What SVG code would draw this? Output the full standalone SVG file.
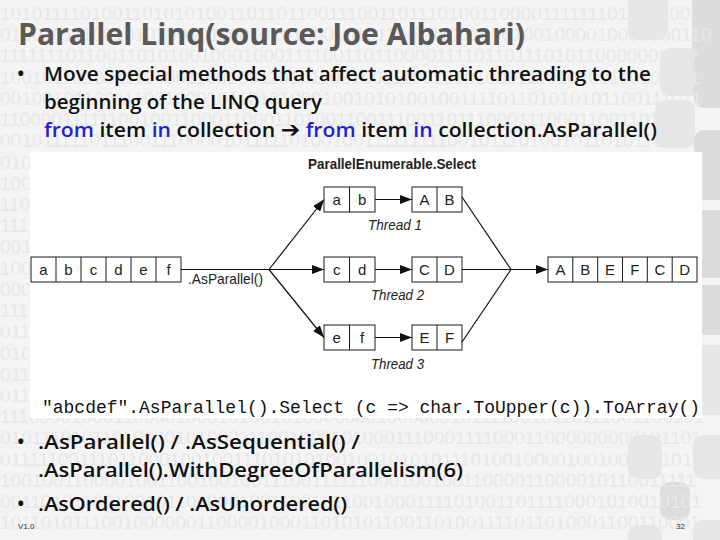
<svg xmlns="http://www.w3.org/2000/svg" width="720" height="540" viewBox="0 0 720 540">
<style>
.bgd{font-family:"Liberation Sans",sans-serif;font-size:19px;fill:#e8e8e8}
.deco{fill:#dcdcdc}
.deco2{fill:#e6e6e6}
.title{font-family:"Open Sans","Liberation Sans",sans-serif;font-weight:700;font-size:31px;fill:#595959}
.body{font-family:"Open Sans","Liberation Sans",sans-serif;font-weight:600;font-size:20px;fill:#111}
.blue{fill:#2323c8}
.cell{fill:#fff;stroke:#1a1a1a;stroke-width:1}
.div{stroke:#1a1a1a;stroke-width:1}
.ct{font-family:"Liberation Sans",sans-serif;font-size:15px;fill:#222;text-anchor:middle}
.thr{font-family:"Liberation Sans",sans-serif;font-style:italic;font-size:15px;fill:#222}
.lbl{font-family:"Liberation Sans",sans-serif;font-size:15px;fill:#222}
.conn{stroke:#111;stroke-width:1.2;fill:none}
.code{font-family:"Liberation Mono",monospace;font-size:18px;fill:#111}
.small{font-family:"Liberation Sans",sans-serif;font-size:8px;fill:#333}
</style>
<defs>
<marker id="ah" markerUnits="userSpaceOnUse" markerWidth="13" markerHeight="9" refX="12" refY="4.5" orient="auto">
<path d="M0,0 L12,4.5 L0,9 z" fill="#111"/>
</marker>
</defs>
<rect x="0" y="0" width="720" height="540" fill="#f4f4f4"/>
<g id="decoration">
<rect class="deco2" x="628" y="-12" width="40" height="52" rx="10"/>
<rect class="deco" x="692" y="-12" width="40" height="68" rx="10"/>
<rect class="deco2" x="660" y="48" width="40" height="48" rx="10"/>
<rect class="deco" x="694" y="52" width="40" height="56" rx="10"/>
<rect class="deco2" x="655" y="100" width="40" height="48" rx="10"/>
<rect class="deco" x="694" y="130" width="40" height="70" rx="10"/>
<rect class="deco" x="694" y="210" width="40" height="68" rx="10"/>
<rect class="deco" x="694" y="285" width="40" height="50" rx="10"/>
<rect class="deco2" x="694" y="345" width="40" height="70" rx="10"/>
<rect class="deco2" x="628" y="435" width="34" height="44" rx="10"/>
<rect class="deco2" x="693" y="435" width="40" height="44" rx="10"/>
<rect class="deco" x="660" y="482" width="30" height="38" rx="10"/>
<rect class="deco2" x="628" y="525" width="34" height="30" rx="10"/>
<rect class="deco2" x="693" y="520" width="40" height="30" rx="10"/>
</g>
<g id="background-digits" class="bgd">
<text x="0" y="20">10101111010011010101001101101100111001101110100110000111111101100100</text>
<text x="0" y="41">01001011100101010010110010101000101011001010010001001000010000000110</text>
<text x="0" y="62">11111110110011010100100010001111001101100001111011011101011000000101</text>
<text x="0" y="84">10010110100111000011001001101011001001110010101000111010100110100111</text>
<text x="0" y="105">00100101100111001000101101010001001010100100111101101010101100111011</text>
<text x="0" y="126">11000011111100100110001100011010011001110011011100011100011001101100</text>
<text x="0" y="147">00101111101110011100001011111010010011111111100101110100101101011001</text>
<text x="0" y="169">010</text>
<text x="0" y="190">100</text>
<text x="0" y="211">110</text>
<text x="0" y="232">111</text>
<text x="0" y="253">001</text>
<text x="0" y="275">100</text>
<text x="0" y="296">000</text>
<text x="0" y="317">111</text>
<text x="0" y="338">011</text>
<text x="0" y="360">010</text>
<text x="0" y="381">011</text>
<text x="0" y="402">011</text>
<text x="0" y="423">11100001000110000100010100101000000010000001011110010110111001100101</text>
<text x="0" y="444">01011101011010100101000111001000101000111000111100011000000000101101</text>
<text x="0" y="466">01111100111011000100100111010101001001010101110100100001001000101011</text>
<text x="0" y="487">10010011000010011001001001110011111100010010011000011000010110011111</text>
<text x="0" y="508">00110101100100101101000100110010110010001111010011011110001010010101</text>
<text x="0" y="529">10110101110010000001100001000110101011001101001111011010001100110001</text>
</g>
<g id="title">
<text class="title" x="18" y="45" textLength="507" lengthAdjust="spacingAndGlyphs">Parallel Linq(source: Joe Albahari)</text>
</g>
<g id="bullets-top" class="body">
<text x="17" y="81">•</text>
<text x="44" y="81" textLength="607" lengthAdjust="spacingAndGlyphs">Move special methods that affect automatic threading to the</text>
<text x="44" y="109" textLength="278" lengthAdjust="spacingAndGlyphs">beginning of the LINQ query</text>
<text x="44" y="137" textLength="613" lengthAdjust="spacingAndGlyphs"><tspan class="blue">from</tspan> item <tspan class="blue">in</tspan> collection <tspan font-family="DejaVu Sans, sans-serif" font-weight="700" font-size="22">➔</tspan> <tspan class="blue">from</tspan> item <tspan class="blue">in</tspan> collection.AsParallel()</text>
</g>
<rect id="panel" x="30" y="152" width="672" height="266" fill="#ffffff"/>
<g id="select-label">
<text class="lbl" x="308" y="169" font-weight="700" textLength="168" lengthAdjust="spacingAndGlyphs">ParallelEnumerable.Select</text>
</g>
<g id="connectors">
<line class="conn" x1="181" y1="269.5" x2="269" y2="269.5"/>
<line class="conn" x1="269" y1="269.5" x2="324" y2="199.5" marker-end="url(#ah)"/>
<line class="conn" x1="269" y1="269.5" x2="324" y2="269.5" marker-end="url(#ah)"/>
<line class="conn" x1="269" y1="269.5" x2="324" y2="337.5" marker-end="url(#ah)"/>
<line class="conn" x1="375" y1="199.5" x2="412" y2="199.5" marker-end="url(#ah)"/>
<line class="conn" x1="375" y1="269.5" x2="412" y2="269.5" marker-end="url(#ah)"/>
<line class="conn" x1="375" y1="337.5" x2="412" y2="337.5" marker-end="url(#ah)"/>
<line class="conn" x1="462" y1="197" x2="511" y2="269.5"/>
<line class="conn" x1="462" y1="269.5" x2="511" y2="269.5"/>
<line class="conn" x1="462" y1="342" x2="511" y2="269.5"/>
<line class="conn" x1="511" y1="269.5" x2="548" y2="269.5" marker-end="url(#ah)"/>
</g>
<g id="input-array">
<rect class="cell" x="31" y="257" width="150" height="25"/>
<line class="div" x1="56" y1="257" x2="56" y2="282"/>
<line class="div" x1="81" y1="257" x2="81" y2="282"/>
<line class="div" x1="106" y1="257" x2="106" y2="282"/>
<line class="div" x1="131" y1="257" x2="131" y2="282"/>
<line class="div" x1="156" y1="257" x2="156" y2="282"/>
<text class="ct" x="43.5" y="275">a</text>
<text class="ct" x="68.5" y="275">b</text>
<text class="ct" x="93.5" y="275">c</text>
<text class="ct" x="118.5" y="275">d</text>
<text class="ct" x="143.5" y="275">e</text>
<text class="ct" x="168.5" y="275">f</text>
</g>
<g id="asparallel-label">
<text class="lbl" x="188" y="284" textLength="75" lengthAdjust="spacingAndGlyphs">.AsParallel()</text>
</g>
<g id="thread1-in">
<rect class="cell" x="324" y="187" width="51" height="25"/>
<line class="div" x1="349.5" y1="187" x2="349.5" y2="212"/>
<text class="ct" x="336.7" y="205">a</text>
<text class="ct" x="362.2" y="205">b</text>
</g>
<g id="thread1-out">
<rect class="cell" x="412" y="187" width="50" height="25"/>
<line class="div" x1="437" y1="187" x2="437" y2="212"/>
<text class="ct" x="424.5" y="205">A</text>
<text class="ct" x="449.5" y="205">B</text>
</g>
<g id="thread2-in">
<rect class="cell" x="324" y="257" width="51" height="25"/>
<line class="div" x1="349.5" y1="257" x2="349.5" y2="282"/>
<text class="ct" x="336.7" y="275">c</text>
<text class="ct" x="362.2" y="275">d</text>
</g>
<g id="thread2-out">
<rect class="cell" x="412" y="257" width="50" height="25"/>
<line class="div" x1="437" y1="257" x2="437" y2="282"/>
<text class="ct" x="424.5" y="275">C</text>
<text class="ct" x="449.5" y="275">D</text>
</g>
<g id="thread3-in">
<rect class="cell" x="324" y="325" width="51" height="25"/>
<line class="div" x1="349.5" y1="325" x2="349.5" y2="350"/>
<text class="ct" x="336.7" y="343">e</text>
<text class="ct" x="362.2" y="343">f</text>
</g>
<g id="thread3-out">
<rect class="cell" x="412" y="325" width="50" height="25"/>
<line class="div" x1="437" y1="325" x2="437" y2="350"/>
<text class="ct" x="424.5" y="343">E</text>
<text class="ct" x="449.5" y="343">F</text>
</g>
<g id="thread-labels">
<text class="thr" x="368" y="230" textLength="54" lengthAdjust="spacingAndGlyphs">Thread 1</text>
<text class="thr" x="371" y="300" textLength="53" lengthAdjust="spacingAndGlyphs">Thread 2</text>
<text class="thr" x="371" y="369" textLength="53" lengthAdjust="spacingAndGlyphs">Thread 3</text>
</g>
<g id="output-array">
<rect class="cell" x="548" y="257" width="149" height="25"/>
<line class="div" x1="572.8" y1="257" x2="572.8" y2="282"/>
<line class="div" x1="597.7" y1="257" x2="597.7" y2="282"/>
<line class="div" x1="622.5" y1="257" x2="622.5" y2="282"/>
<line class="div" x1="647.3" y1="257" x2="647.3" y2="282"/>
<line class="div" x1="672.2" y1="257" x2="672.2" y2="282"/>
<text class="ct" x="560.4" y="275">A</text>
<text class="ct" x="585.2" y="275">B</text>
<text class="ct" x="610.1" y="275">E</text>
<text class="ct" x="634.9" y="275">F</text>
<text class="ct" x="659.8" y="275">C</text>
<text class="ct" x="684.6" y="275">D</text>
</g>
<g id="code-line">
<text class="code" x="42" y="413" textLength="658" lengthAdjust="spacingAndGlyphs">"abcdef".AsParallel().Select (c =&gt; char.ToUpper(c)).ToArray()</text>
</g>
<g id="bullets-bottom" class="body">
<text x="17" y="449">•</text>
<text x="38" y="449" textLength="322" lengthAdjust="spacingAndGlyphs">.AsParallel() / .AsSequential()  /</text>
<text x="38" y="477" textLength="425" lengthAdjust="spacingAndGlyphs">.AsParallel().WithDegreeOfParallelism(6)</text>
<text x="17" y="511">•</text>
<text x="38" y="511" textLength="309" lengthAdjust="spacingAndGlyphs">.AsOrdered() / .AsUnordered()</text>
</g>
<g id="footer">
<text class="small" x="18" y="529">V1.0</text>
<text class="small" x="676" y="529">32</text>
</g>
</svg>
